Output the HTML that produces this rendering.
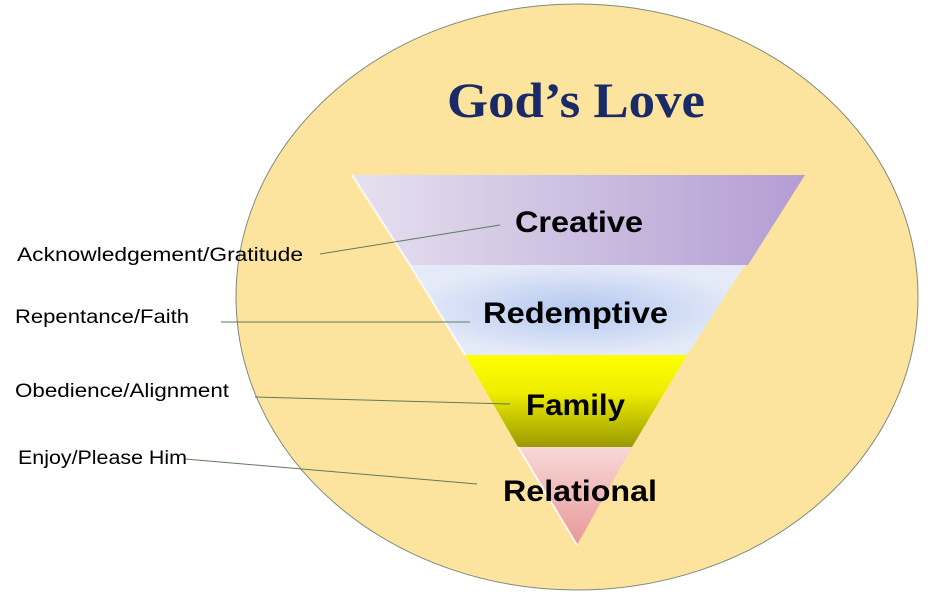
<!DOCTYPE html>
<html><head><meta charset="utf-8"><style>html,body{margin:0;padding:0;background:#fff;}svg{display:block}</style></head>
<body>
<svg width="942" height="595" viewBox="0 0 942 595" xmlns="http://www.w3.org/2000/svg">
<defs>
<linearGradient id="gc" x1="0" y1="0" x2="1" y2="0"><stop offset="0" stop-color="#e6e0ef"/><stop offset="1" stop-color="#b39dd3"/></linearGradient>
<radialGradient id="gr" cx="0.5" cy="0.5" r="0.5"><stop offset="0" stop-color="#b4c8f0"/><stop offset="1" stop-color="#e4eaf8"/></radialGradient>
<linearGradient id="gf" x1="0" y1="0" x2="0" y2="1"><stop offset="0" stop-color="#ffff00"/><stop offset="0.4" stop-color="#eeee00"/><stop offset="1" stop-color="#9a9a00"/></linearGradient>
<linearGradient id="gp" x1="0" y1="0" x2="0" y2="1"><stop offset="0" stop-color="#f8d8d8"/><stop offset="1" stop-color="#e89898"/></linearGradient>
</defs>
<ellipse cx="577" cy="297" rx="341" ry="293" fill="#fde49e" stroke="#7f8a7a" stroke-width="1"/>
<text x="576" y="117" text-anchor="middle" font-family="Liberation Serif, serif" font-weight="bold" font-size="50" fill="#1a2a66" textLength="258" lengthAdjust="spacingAndGlyphs">God’s Love</text>
<polygon points="352,175 805,175 748,265 410,265" fill="url(#gc)"/>
<polygon points="410,265 745,265 687,355 465,355" fill="url(#gr)"/>
<polygon points="465,355 687,355 632,447 518,447" fill="url(#gf)"/>
<polygon points="518,447 632,447 577,545" fill="url(#gp)"/>
<g stroke="#ffffff" stroke-width="2" opacity="0.8">
<line x1="352" y1="175" x2="410" y2="265"/><line x1="410" y1="265" x2="465" y2="355"/><line x1="518" y1="447" x2="577" y2="545"/>
</g>
<g stroke="#5f7a5a" stroke-width="1">
<line x1="320" y1="254" x2="500" y2="225"/>
<line x1="221" y1="322" x2="470" y2="322"/>
<line x1="255" y1="397" x2="510" y2="404"/>
<line x1="185" y1="459" x2="477" y2="484"/>
</g>
<g font-family="Liberation Sans, sans-serif" font-weight="bold" font-size="30" fill="#000">
<text x="515" y="232" textLength="128" lengthAdjust="spacingAndGlyphs">Creative</text>
<text x="483" y="323" textLength="185" lengthAdjust="spacingAndGlyphs">Redemptive</text>
<text x="526" y="415" textLength="99" lengthAdjust="spacingAndGlyphs">Family</text>
<text x="503" y="501" textLength="154" lengthAdjust="spacingAndGlyphs">Relational</text>
</g>
<g font-family="Liberation Sans, sans-serif" font-size="19" fill="#000">
<text x="17" y="261" textLength="286" lengthAdjust="spacingAndGlyphs">Acknowledgement/Gratitude</text>
<text x="15" y="323" textLength="174" lengthAdjust="spacingAndGlyphs">Repentance/Faith</text>
<text x="15" y="397" textLength="214" lengthAdjust="spacingAndGlyphs">Obedience/Alignment</text>
<text x="18" y="464" textLength="169" lengthAdjust="spacingAndGlyphs">Enjoy/Please Him</text>
</g>
</svg>
</body></html>
